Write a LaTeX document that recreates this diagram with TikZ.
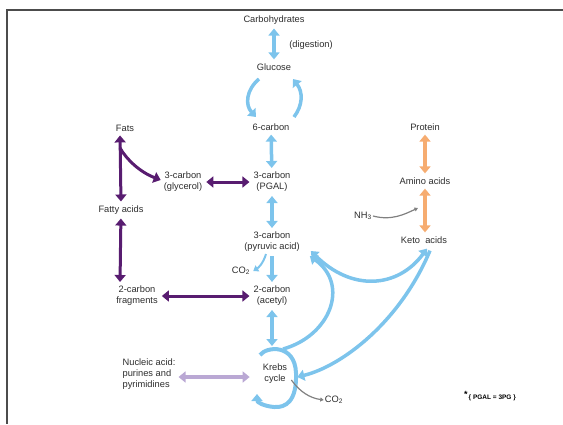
\documentclass[tikz,border=0pt]{standalone}
\usepackage{fontspec}
\setmainfont{Liberation Sans}
\usetikzlibrary{arrows.meta}
\definecolor{bl}{RGB}{125,196,236}
\definecolor{pu}{RGB}{88,28,112}
\definecolor{orc}{RGB}{246,172,112}
\definecolor{lav}{RGB}{186,168,212}
\definecolor{gr}{RGB}{128,128,128}
\definecolor{txt}{RGB}{45,45,45}
\tikzset{
  lbl/.style={font=\fontsize{9.3}{11}\selectfont, text=txt, align=center, inner sep=1pt},
  bigtip/.tip={Triangle[width=11pt,length=7pt]},
  smalltip/.tip={Triangle[width=7pt,length=5pt]},
  tinytip/.tip={Triangle[width=4pt,length=3.5pt]},
  bluebi/.style={draw=bl, line width=3.5pt, bigtip-bigtip, shorten <=3pt, shorten >=3pt},
  blueone/.style={draw=bl, line width=3.5pt, -bigtip},
  bluethin/.style={draw=bl, line width=2pt, -smalltip},
  purplebi/.style={draw=pu, line width=3pt, bigtip-bigtip, shorten <=3pt, shorten >=3pt},
  purpleone/.style={draw=pu, line width=3pt, -bigtip},
  orangebi/.style={draw=orc, line width=3.5pt, bigtip-bigtip, shorten <=3pt, shorten >=3pt},
  lavbi/.style={draw=lav, line width=3.5pt, bigtip-bigtip},
  grayone/.style={draw=gr, line width=1.2pt, -tinytip},
  frameline/.style={draw=black!70, line width=1.5pt}
}
\begin{document}
\begin{tikzpicture}[x=1pt,y=-1pt]
\useasboundingbox (0,0) rectangle (563,424);
% frame
\coordinate (ftl) at (7,10);
\coordinate (ftr) at (563,10);
\coordinate (fbl) at (7,424);
\draw[frameline] (ftr) -- (ftl) -- (fbl);

% labels
\node[lbl] (carb) at (274,20) {Carbohydrates};
\node[lbl] (dig) at (311,45) {(digestion)};
\node[lbl] (gluc) at (274,67) {Glucose};
\node[lbl] (six) at (271,127) {6-carbon};
\node[lbl] (pgal) at (272,182) {3-carbon\\(PGAL)};
\node[lbl] (pyr) at (272,242) {3-carbon\\(pyruvic acid)};
\node[lbl] (co2a) at (241,271) {CO\textsubscript{2}};
\node[lbl] (acet) at (272,296) {2-carbon\\(acetyl)};
\node[lbl] (krebs) at (275,374) {Krebs\\cycle};
\node[lbl] (co2b) at (334,400) {CO\textsubscript{2}};
\node[lbl,align=left] (nuc) at (149,374) {Nucleic acid:\\purines and\\pyrimidines};
\node[lbl] (fats) at (125,128) {Fats};
\node[lbl] (fatty) at (121,210) {Fatty acids};
\node[lbl] (glyc) at (183,182) {3-carbon\\(glycerol)};
\node[lbl] (frag) at (137,296) {2-carbon\\fragments};
\node[lbl] (prot) at (425,127) {Protein};
\node[lbl] (amino) at (425,181) {Amino acids};
\node[lbl] (nh3) at (363,216) {NH\textsubscript{3}};
\node[lbl] (keto) at (424,240) {Keto\ \ acids};
\node[font=\bfseries\fontsize{6.5}{8}\selectfont, text=black, inner sep=1pt] (note) at (490,396)
  {\raisebox{1.5pt}{\fontsize{9}{9}\selectfont *}\,\{ PGAL = 3PG \}};

% blue main column
\draw[bluebi] (carb) -- (gluc);
\coordinate (gl1) at (259,79);
\coordinate (gl2) at (256,117);
\coordinate (gr1) at (294,117);
\coordinate (gr2) at (293,79);
\draw[blueone] (gl1) .. controls (246,90) and (245,105) .. (gl2);
\draw[blueone] (gr1) .. controls (303,105) and (303,92) .. (gr2);
\draw[bluebi] (six) -- (pgal);
\draw[bluebi] (pgal) -- (pyr);
\draw[blueone, shorten <=3pt, shorten >=3pt] (pyr) -- (acet);
\draw[bluethin] ([xshift=-6pt,yshift=-1pt]pyr.south) .. controls (263,264) and (258,268) .. ([xshift=2pt]co2a.east);
\coordinate (ktop) at (272,346);
\draw[bluebi, shorten >=0pt] (acet) -- (ktop);

% Krebs loop
\coordinate (kl1) at (260,355);
\coordinate (kl2) at (257,394);
\draw[draw=bl, line width=4pt, -bigtip] (kl1) .. controls (267,346) and (295,344) .. (296,373)
  .. controls (297,401) and (286,408) .. (274,407)
  .. controls (263,406) and (257,402) .. (kl2);

% Krebs -> pyruvic
\coordinate (kp) at (283,349);
\draw[blueone] (kp) .. controls (330,336) and (350,285) .. ([xshift=9pt,yshift=-3pt]pyr.south east);
% Keto <-> pyruvic
\draw[draw=bl, line width=3.5pt, bigtip-bigtip] ([xshift=10pt,yshift=-9pt]pyr.east) .. controls (352,292) and (398,288) .. ([xshift=3pt,yshift=-4pt]keto.south);
% Keto -> Krebs
\draw[blueone] ([xshift=6pt,yshift=-6pt]keto.south) .. controls (400,322) and (342,366) .. ([xshift=9pt,yshift=-3pt]krebs.east);

% purple
\draw[purplebi] ([xshift=-5pt]fats.south) -- (fatty.north);
\coordinate (br) at (120,148);
\draw[purpleone] (br) .. controls (127,160) and (140,172) .. ([xshift=-2pt,yshift=2pt]glyc.west);
\draw[purplebi] (glyc) -- (pgal);
\draw[purplebi] (fatty) -- ([xshift=-17pt]frag.north);
\draw[purplebi] (frag) -- (acet);

% orange
\draw[orangebi] (prot) -- (amino);
\draw[orangebi] (amino) -- ([xshift=1pt]keto.north);
\coordinate (nhend) at (418,208);
\draw[grayone] (nh3.east) .. controls (392,221) and (405,214) .. (nhend);

% lavender
\draw[lavbi] ([xshift=2pt,yshift=-3pt]nuc.east) -- ([xshift=-12pt,yshift=-3pt]krebs.west);

% gray CO2 from Krebs
\draw[grayone] ([xshift=3pt,yshift=-6pt]krebs.east) .. controls (300,392) and (310,398) .. (co2b.west);
\end{tikzpicture}
\end{document}
